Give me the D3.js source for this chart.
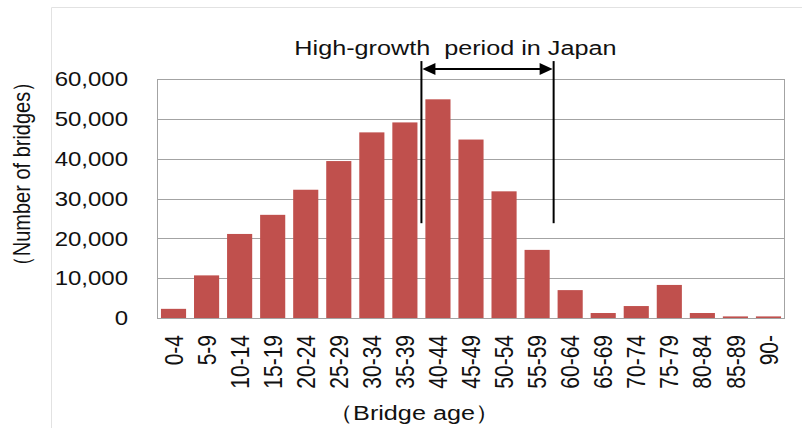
<!DOCTYPE html>
<html>

<head>
  <meta charset="utf8">
  <script src="https://d3js.org/d3.v7.min.js"></script>
  <style>
    body { margin: 0; background: #fff; }
    text { font-family: "Liberation Sans", Arial, sans-serif; fill: #111; }
  </style>
</head>

<body>
  <svg id="chart" width="802" height="428"></svg>
  <script>
    var ages = ['0-4', '5-9', '10-14', '15-19', '20-24', '25-29', '30-34', '35-39', '40-44',
      '45-49', '50-54', '55-59', '60-64', '65-69', '70-74', '75-79', '80-84', '85-89', '90-'];
    var bridges = [2300, 10700, 21100, 25900, 32200, 39400, 46600, 49100, 54900,
      44800, 31800, 17100, 7000, 1250, 3000, 8300, 1250, 400, 400];
    var yTicks = [0, 10000, 20000, 30000, 40000, 50000, 60000];
    var highGrowth = ['40-44', '55-59'];
    var annotation = 'High-growth  period in Japan';

    var chart = d3.select('#chart');
    var margin = { top: 79, right: 17, bottom: 110, left: 157 };
    var width = chart.attr('width') - margin.left - margin.right;
    var height = chart.attr('height') - margin.top - margin.bottom;
    var sx = 1.2; // the picture is a little wide, text included

    // light outer frame
    chart.append('path')
      .attr('d', 'M51.5,' + 440 + 'V7.5H' + 810)
      .attr('fill', 'none')
      .attr('stroke', '#e2e2e2');

    var x = d3.scaleBand().domain(ages).range([0, width]).paddingInner(0.24).paddingOuter(0.12);
    var y = d3.scaleLinear().domain([0, 60000]).range([height, 0]);

    var g = chart.append('g')
      .attr('transform', 'translate(' + margin.left + ',' + margin.top + ')');

    // gridlines
    g.append('g').selectAll('line')
      .data(yTicks)
      .enter().append('line')
      .attr('x1', 0).attr('x2', width)
      .attr('y1', (d) => Math.round(y(d)) + 0.5)
      .attr('y2', (d) => Math.round(y(d)) + 0.5)
      .attr('stroke', '#a3a3a3');

    g.append('line')
      .attr('x1', 0.5).attr('x2', 0.5).attr('y1', 0).attr('y2', height)
      .attr('stroke', '#a3a3a3');
    g.append('line')
      .attr('x1', width - 0.5).attr('x2', width - 0.5).attr('y1', 0).attr('y2', height)
      .attr('stroke', '#a3a3a3');

    // y tick labels
    g.append('g').selectAll('text')
      .data(yTicks)
      .enter().append('text')
      .attr('transform', (d) => 'translate(-29,' + y(d) + ') scale(' + sx + ',1)')
      .attr('dy', '0.36em')
      .attr('text-anchor', 'end')
      .style('font-size', '20px')
      .text(d3.format(','));

    // bars
    g.append('g').selectAll('rect')
      .data(ages)
      .enter().append('rect')
      .attr('x', (d) => x(d))
      .attr('width', x.bandwidth())
      .attr('y', (d, i) => y(bridges[i]))
      .attr('height', (d, i) => height - y(bridges[i]))
      .attr('fill', '#c0504d');

    // x tick labels
    g.append('g').selectAll('text')
      .data(ages)
      .enter().append('text')
      .attr('transform', (d) => 'translate(' + (x(d) + x.bandwidth() / 2) + ',' + (height + 17) + ') rotate(-90) scale(1,' + sx + ')')
      .attr('dy', '0.36em')
      .attr('text-anchor', 'end')
      .style('font-size', '21px')
      .text((d) => d);

    // axis titles
    chart.append('text')
      .attr('transform', 'translate(414,420) scale(' + sx + ',1)')
      .attr('text-anchor', 'middle')
      .style('font-size', '21px')
      .text('（Bridge age）');

    chart.append('text')
      .attr('transform', 'translate(30,174) rotate(-90) scale(1,' + sx + ')')
      .attr('text-anchor', 'middle')
      .style('font-size', '20px')
      .text('（Number of bridges）');

    // high-growth period annotation
    var gap = x.step() * x.paddingInner() / 2;
    var x0 = x(highGrowth[0]) - gap;
    var x1 = x(highGrowth[1]) + x.bandwidth() + gap;

    var ann = g.append('g').attr('stroke', '#000').attr('stroke-width', 2);
    [x0, x1].forEach((xx) => {
      ann.append('line')
        .attr('x1', xx).attr('x2', xx)
        .attr('y1', y(64500)).attr('y2', y(23800));
    });
    ann.append('line')
      .attr('x1', x0 + 10).attr('x2', x1 - 10)
      .attr('y1', y(62500)).attr('y2', y(62500));

    var ay = y(62500);
    g.append('path')
      .attr('d', 'M' + (x0 + 1) + ',' + ay + 'l13,-6v12z' + 'M' + (x1 - 1) + ',' + ay + 'l-13,-6v12z')
      .attr('fill', '#000');

    g.append('text')
      .attr('transform', 'translate(' + (x0 + 34) + ',' + y(66000) + ') scale(' + sx + ',1)')
      .attr('text-anchor', 'middle')
      .style('font-size', '21px')
      .style('white-space', 'pre')
      .text(annotation);
  </script>
</body>

</html>
